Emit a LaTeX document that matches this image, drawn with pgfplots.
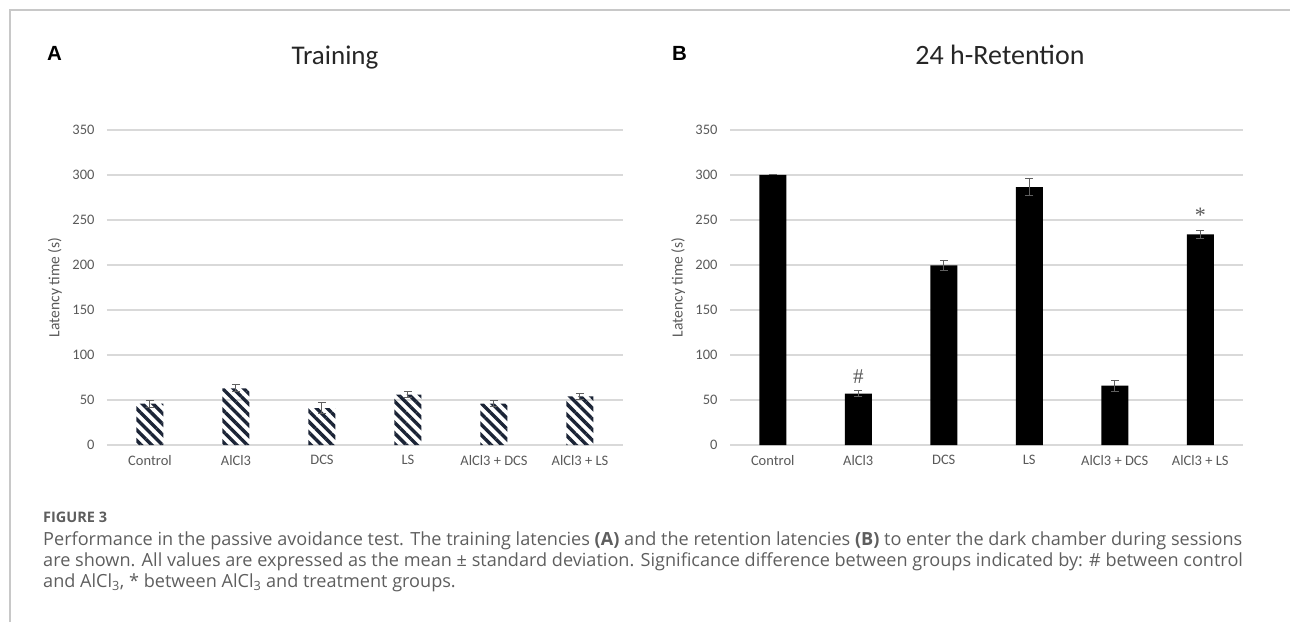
\documentclass[border=0pt]{standalone}
\usepackage{fontspec}
\setmainfont{Carlito}
\newfontfamily\capfont{Open Sans}
\newfontfamily\arialb{Liberation Sans}
\newfontfamily\serifb{Liberation Serif}
\usepackage{pgfplots}
\pgfplotsset{compat=1.18}
\usetikzlibrary{patterns.meta}
\definecolor{gridgray}{HTML}{D9D9D9}
\definecolor{tickgray}{HTML}{595959}
\definecolor{navy}{HTML}{1B2436}
\definecolor{capgray}{HTML}{5E5E5E}
\definecolor{framegray}{HTML}{C8C8C8}
\definecolor{titlec}{HTML}{262626}
\definecolor{errc}{HTML}{606060}

\pgfplotstableread{
x y e
0 46 4
1 63 4
2 41 6.5
3 56 3
4 46 3.5
5 54 3.5
}\tabA
\pgfplotstableread{
x y e
0 300 0
1 57 3.5
2 199.5 5.5
3 286.5 9.5
4 66 6
5 234 4.5
}\tabB

\pgfplotsset{myaxis/.style={
  scale only axis, anchor=south west,
  height=315pt,
  xmin=-0.5, xmax=5.5, ymin=0, ymax=350,
  enlargelimits=false,
  xtick={0,1,2,3,4,5},
  xticklabels={Control, AlCl3, DCS, LS, AlCl3 + DCS, AlCl3 + LS},
  ytick={0,50,100,150,200,250,300,350},
  axis x line*=bottom, axis y line*=left,
  axis line style={draw=none},
  major tick length=0pt,
  ymajorgrids, grid style={gridgray, line width=1.3pt},
  /pgf/number format/assume math mode=true,
  tick label style={font=\fontsize{14.5}{16}\selectfont, text=tickgray},
  yticklabel style={anchor=east, xshift=-9pt},
  xticklabel style={anchor=north, yshift=-7pt},
  ylabel={Latency time (s)},
  ylabel style={font=\fontsize{15.5}{18}\selectfont, text=tickgray, at={(axis description cs:-0.101,0.5)}, anchor=center},
  clip=false,
}}

\begin{document}
\begin{tikzpicture}[x=1pt,y=1pt]
\useasboundingbox (0,0) rectangle (1290,622);
\draw[framegray, line width=1.5pt] (10,0) -- (10,612) -- (1290,612);

\node[font=\arialb\bfseries\fontsize{20.5}{22}\selectfont, anchor=base west, inner sep=0pt] at (47,561) {A};
\node[font=\arialb\bfseries\fontsize{20.5}{22}\selectfont, anchor=base west, inner sep=0pt] at (672,561) {B};
\node[font=\fontsize{27}{30}\selectfont, text=titlec, anchor=base] at (335,557) {Training};
\node[font=\fontsize{28}{30}\selectfont, text=titlec, anchor=base] at (1000,557) {24 h-Retention};

\begin{axis}[myaxis, at={(107pt,177pt)}, width=516pt]
\addplot[ybar, bar width=27pt, draw=none,
  pattern={Lines[angle=-45,distance=7.5pt,line width=3.4pt]}, pattern color=navy,
  error bars/.cd, y dir=both, y explicit,
  error bar style={errc, line width=1pt},
  error mark options={errc, line width=1pt, mark size=4pt, rotate=90}]
  table[x=x, y=y, y error=e] {\tabA};
\end{axis}

\begin{axis}[myaxis, at={(730pt,177pt)}, width=513pt]
\addplot[ybar, bar width=27pt, draw=none, fill=black,
  error bars/.cd, y dir=both, y explicit,
  error bar style={errc, line width=1pt},
  error mark options={errc, line width=1pt, mark size=4pt, rotate=90}]
  table[x=x, y=y, y error=e] {\tabB};
\node[font=\serifb\fontsize{21}{22}\selectfont, text=tickgray] at (axis cs:1,76) {\#};
\node[font=\serifb\fontsize{22}{22}\selectfont, text=tickgray] at (axis cs:5,255) {*};
\end{axis}

\node[font=\capfont\bfseries\fontsize{14.5}{16}\selectfont, text=capgray, anchor=base west, inner sep=0pt] at (43,100) {FIGURE 3};
\node[font=\capfont\fontsize{18.1}{20}\selectfont, text=capgray, anchor=base west, inner sep=0pt] at (43,77) {Performance in the passive avoidance test. The training latencies \textbf{(A)} and the retention latencies \textbf{(B)} to enter the dark chamber during sessions};
\node[font=\capfont\fontsize{18.1}{20}\selectfont, text=capgray, anchor=base west, inner sep=0pt] at (43,56) {are shown. All values are expressed as the mean ± standard deviation. Significance difference between groups indicated by: \# between control};
\node[font=\capfont\fontsize{18.1}{20}\selectfont, text=capgray, anchor=base west, inner sep=0pt] at (43,35) {and AlCl\textsubscript{3}, * between AlCl\textsubscript{3} and treatment groups.};
\end{tikzpicture}
\end{document}
